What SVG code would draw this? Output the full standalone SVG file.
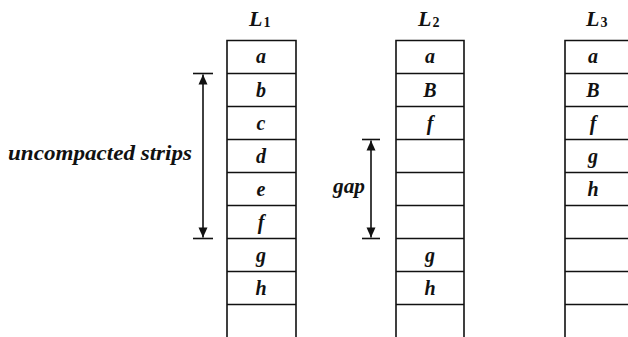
<svg xmlns="http://www.w3.org/2000/svg" width="628" height="337" viewBox="0 0 628 337">
  <style>
    .col { fill: none; stroke: #111; stroke-width: 1.6; }
    .lbl { font-family: "Liberation Serif", "Times New Roman", serif; font-style: italic; font-weight: bold; fill: #111; }
    .cellTxt { font-size: 20px; text-anchor: middle; }
    .head { font-size: 22px; }
    .sub { font-size: 14px; font-style: normal; }
    .note { font-size: 20px; }
    .dim { stroke: #111; stroke-width: 1.6; fill: none; }
  </style>
  <defs>
    <marker id="arrow" viewBox="0 0 10 16" refX="10" refY="8" markerWidth="12" markerHeight="16" markerUnits="userSpaceOnUse" orient="auto">
      <path d="M0,3.5 L10,8 L0,12.5 Z" fill="#111"/>
    </marker>
  </defs>
  <rect width="628" height="337" fill="#fff"/>

  <!-- Column L1 -->
  <g id="list-L1">
    <text class="lbl head" x="249" y="26">L<tspan class="sub" dx="1" dy="1">1</tspan></text>
    <path class="col" d="M227,337 V40.5 H296 V337"/>
    <g class="dim">
      <line x1="227" y1="73.5" x2="296" y2="73.5"/>
      <line x1="227" y1="106.5" x2="296" y2="106.5"/>
      <line x1="227" y1="139.5" x2="296" y2="139.5"/>
      <line x1="227" y1="172.5" x2="296" y2="172.5"/>
      <line x1="227" y1="205.5" x2="296" y2="205.5"/>
      <line x1="227" y1="238.5" x2="296" y2="238.5"/>
      <line x1="227" y1="271.5" x2="296" y2="271.5"/>
      <line x1="227" y1="304.5" x2="296" y2="304.5"/>
    </g>
    <g class="lbl cellTxt">
      <text x="261" y="63">a</text>
      <text x="261" y="96.5">b</text>
      <text x="261" y="129.5">c</text>
      <text x="261" y="162.5">d</text>
      <text x="261" y="195.5">e</text>
      <text x="261" y="228.5">f</text>
      <text x="261" y="261.5">g</text>
      <text x="261" y="294.5">h</text>
    </g>
  </g>

  <!-- Column L2 -->
  <g id="list-L2">
    <text class="lbl head" x="418" y="26">L<tspan class="sub" dx="1" dy="1">2</tspan></text>
    <path class="col" d="M396,337 V40.5 H464 V337"/>
    <g class="dim">
      <line x1="396" y1="73.5" x2="464" y2="73.5"/>
      <line x1="396" y1="106.5" x2="464" y2="106.5"/>
      <line x1="396" y1="139.5" x2="464" y2="139.5"/>
      <line x1="396" y1="172.5" x2="464" y2="172.5"/>
      <line x1="396" y1="205.5" x2="464" y2="205.5"/>
      <line x1="396" y1="238.5" x2="464" y2="238.5"/>
      <line x1="396" y1="271.5" x2="464" y2="271.5"/>
      <line x1="396" y1="304.5" x2="464" y2="304.5"/>
    </g>
    <g class="lbl cellTxt">
      <text x="430" y="63">a</text>
      <text x="430" y="96.5">B</text>
      <text x="430" y="129.5">f</text>
      <text x="430" y="261.5">g</text>
      <text x="430" y="294.5">h</text>
    </g>
  </g>

  <!-- Column L3 -->
  <g id="list-L3">
    <text class="lbl head" x="586" y="26">L<tspan class="sub" dx="1" dy="1">3</tspan></text>
    <path class="col" d="M565,337 V40.5 H630"/>
    <g class="dim">
      <line x1="565" y1="73.5" x2="630" y2="73.5"/>
      <line x1="565" y1="106.5" x2="630" y2="106.5"/>
      <line x1="565" y1="139.5" x2="630" y2="139.5"/>
      <line x1="565" y1="172.5" x2="630" y2="172.5"/>
      <line x1="565" y1="205.5" x2="630" y2="205.5"/>
      <line x1="565" y1="238.5" x2="630" y2="238.5"/>
      <line x1="565" y1="271.5" x2="630" y2="271.5"/>
      <line x1="565" y1="304.5" x2="630" y2="304.5"/>
    </g>
    <g class="lbl cellTxt">
      <text x="593" y="63">a</text>
      <text x="593" y="96.5">B</text>
      <text x="593" y="129.5">f</text>
      <text x="593" y="162.5">g</text>
      <text x="593" y="195.5">h</text>
    </g>
  </g>

  <!-- Dimension arrows -->
  <g id="connectors">
    <g id="uncompacted-span">
      <line class="dim" x1="193" y1="73.5" x2="213" y2="73.5"/>
      <line class="dim" x1="193" y1="238.5" x2="213" y2="238.5"/>
      <line class="dim" x1="203" y1="156" x2="203" y2="74.5" marker-end="url(#arrow)"/>
      <line class="dim" x1="203" y1="156" x2="203" y2="237.5" marker-end="url(#arrow)"/>
      <text class="lbl note" x="8" y="160" textLength="184" lengthAdjust="spacingAndGlyphs">uncompacted strips</text>
    </g>
    <g id="gap-span">
      <line class="dim" x1="362" y1="139.5" x2="380" y2="139.5"/>
      <line class="dim" x1="362" y1="238.5" x2="380" y2="238.5"/>
      <line class="dim" x1="371" y1="189" x2="371" y2="140.5" marker-end="url(#arrow)"/>
      <line class="dim" x1="371" y1="189" x2="371" y2="237.5" marker-end="url(#arrow)"/>
      <text class="lbl note" x="333" y="193" textLength="32" lengthAdjust="spacingAndGlyphs">gap</text>
    </g>
  </g>
</svg>
